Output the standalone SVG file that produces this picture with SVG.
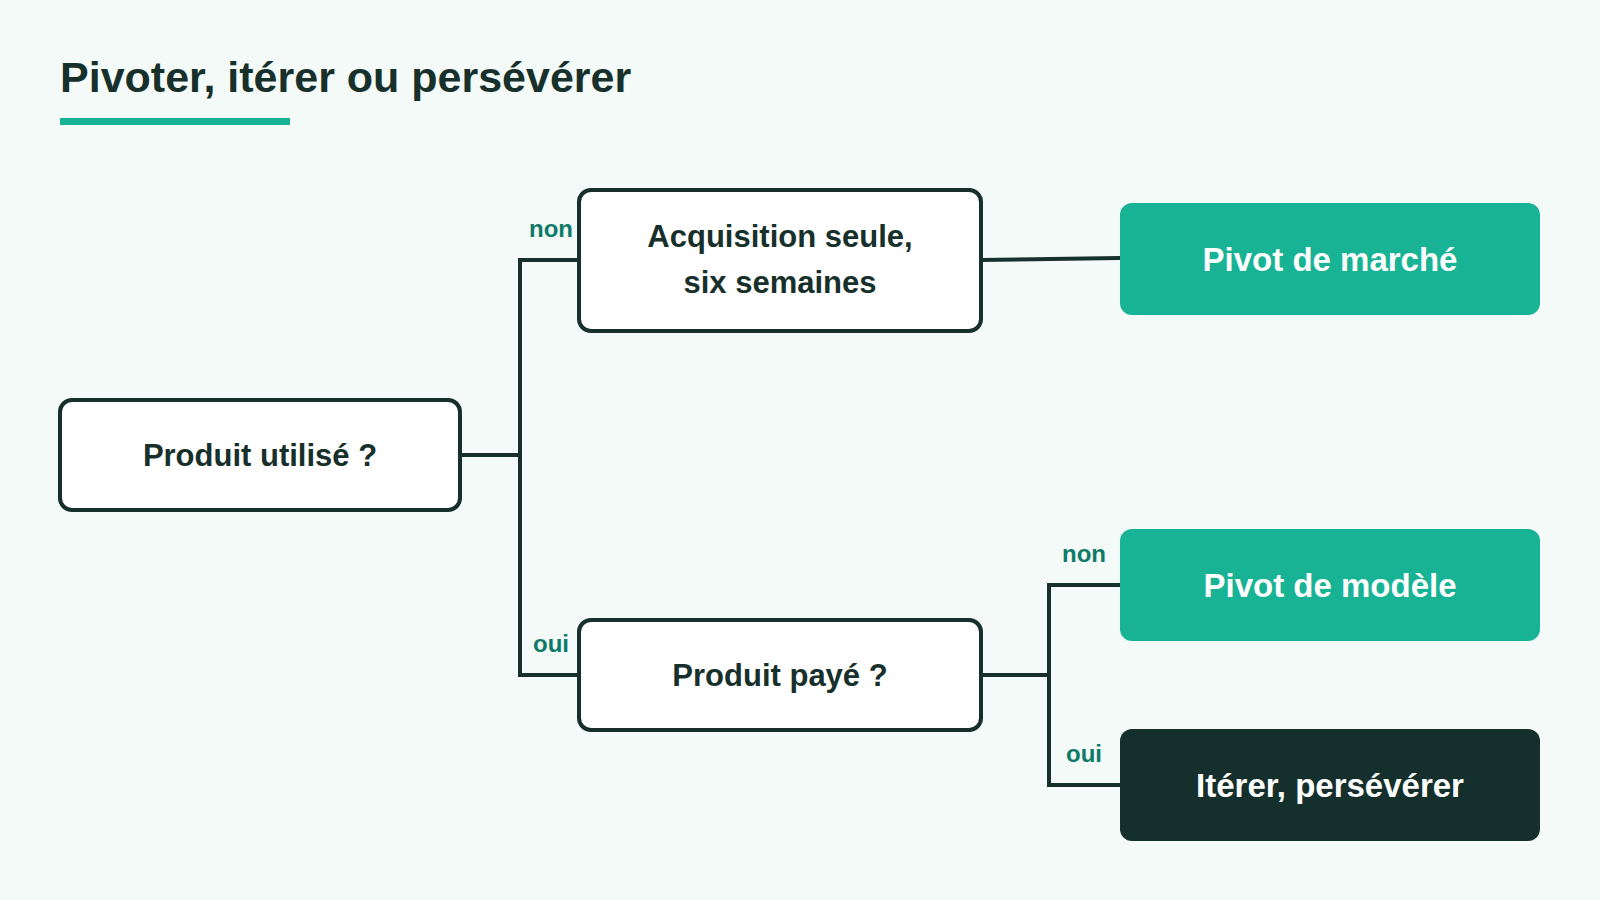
<svg xmlns="http://www.w3.org/2000/svg" width="1600" height="900" viewBox="0 0 1600 900">
<style>
text{font-family:"Liberation Sans",Arial,sans-serif;font-weight:bold}
.w{fill:#fff;stroke:#17302b;stroke-width:4}
.g{fill:#17b394}
.d{fill:#15302c}
.t{font-size:31px;fill:#17302b;text-anchor:middle}
.tw{font-size:33px;fill:#fff;text-anchor:middle}
.l{font-size:24px;fill:#0f7a68;text-anchor:middle}
.c{fill:none;stroke:#17302b;stroke-width:4}
</style>
<rect width="1600" height="900" fill="#f3faf7"/>
<text x="60" y="92" font-size="43" fill="#17302b">Pivoter, itérer ou persévérer</text>
<rect x="60" y="118" width="230" height="7" fill="#17b394"/>
<g id="connectors">
<polyline class="c" points="460,455 520,455"/>
<polyline class="c" points="579,260 520,260 520,675 579,675"/>
<polyline class="c" points="981,260 1120,258"/>
<polyline class="c" points="981,675 1049,675"/>
<polyline class="c" points="1120,585 1049,585 1049,785 1120,785"/>
<text class="l" x="551" y="237">non</text>
<text class="l" x="551" y="652">oui</text>
<text class="l" x="1084" y="562">non</text>
<text class="l" x="1084" y="762">oui</text>
</g>
<g id="n1"><rect class="w" x="60" y="400" width="400" height="110" rx="12"/><text class="t" x="260" y="466">Produit utilisé ?</text></g>
<g id="n2"><rect class="w" x="579" y="190" width="402" height="141" rx="12"/><text class="t" x="780" y="247">Acquisition seule,</text><text class="t" x="780" y="293">six semaines</text></g>
<g id="n3"><rect class="w" x="579" y="620" width="402" height="110" rx="12"/><text class="t" x="780" y="686">Produit payé ?</text></g>
<g id="n4"><rect class="g" x="1120" y="203" width="420" height="112" rx="12"/><text class="tw" x="1330" y="271">Pivot de marché</text></g>
<g id="n5"><rect class="g" x="1120" y="529" width="420" height="112" rx="12"/><text class="tw" x="1330" y="597">Pivot de modèle</text></g>
<g id="n6"><rect class="d" x="1120" y="729" width="420" height="112" rx="12"/><text class="tw" x="1330" y="797">Itérer, persévérer</text></g>
</svg>
